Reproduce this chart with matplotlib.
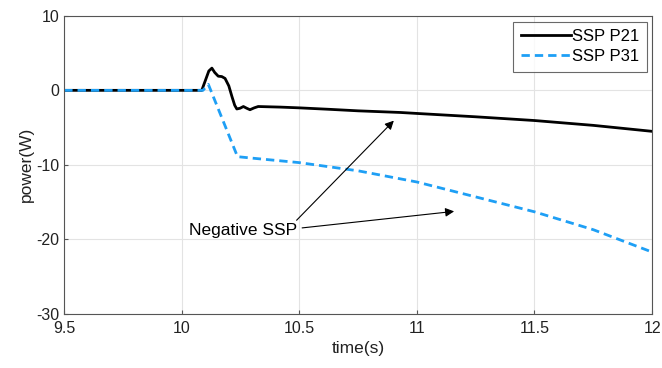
import numpy as np
import matplotlib.pyplot as plt

plt.rcParams['font.family'] = ['Liberation Sans', 'DejaVu Sans']
plt.rcParams['axes.unicode_minus'] = False

# SSP P21 (black, solid)
t21 = [9.5, 10.0, 10.085, 10.10, 10.115, 10.128, 10.14, 10.155, 10.17, 10.184, 10.20,
       10.213, 10.225, 10.234, 10.248, 10.262, 10.276, 10.29, 10.308, 10.325, 10.36,
       10.42, 10.5, 10.63, 10.75, 10.93, 11.0, 11.25, 11.5, 11.75, 12.0]
p21 = [0, 0, 0, 1.3, 2.6, 2.98, 2.4, 1.9, 1.85, 1.6, 0.6,
       -0.8, -2.0, -2.5, -2.4, -2.17, -2.4, -2.6, -2.35, -2.17, -2.2,
       -2.25, -2.35, -2.55, -2.75, -2.97, -3.1, -3.55, -4.05, -4.7, -5.5]

# SSP P31 (blue, dashed)
t31 = [9.5, 10.0, 10.09, 10.113, 10.237, 10.3, 10.5, 10.75, 11.0, 11.25, 11.5, 11.75, 12.0]
p31 = [0, 0, 0, 0.8, -8.9, -9.1, -9.7, -10.8, -12.3, -14.3, -16.3, -18.7, -21.7]

fig = plt.figure(figsize=(6.62, 3.68), dpi=100)
ax = fig.add_axes([0.097, 0.147, 0.888, 0.81])

ax.plot(t21, p21, color='black', lw=2, label='SSP P21')
ax.plot(t31, p31, color='#1E9FF5', lw=2, ls=(0, (3, 1.8)), label='SSP P31')

ax.set_xlim(9.5, 12)
ax.set_ylim(-30, 10)
ax.set_xticks([9.5, 10, 10.5, 11, 11.5, 12])
ax.set_xticklabels(['9.5', '10', '10.5', '11', '11.5', '12'])
ax.set_yticks([-30, -20, -10, 0, 10])
ax.grid(True, color='#E3E3E3', lw=0.8)
ax.set_axisbelow(True)
for s in ax.spines.values():
    s.set_color('#555555')
ax.tick_params(direction='in', length=3, colors='#555555', labelsize=11.5, labelcolor='#222222')
ax.tick_params(axis='x', pad=5)
ax.set_xlabel('time(s)', fontsize=12.5, color='#222222', labelpad=4)
ax.set_ylabel('power(W)', fontsize=12.5, color='#222222', labelpad=2)

ax.text(10.03, -18.8, 'Negative SSP', fontsize=12.5, va='center', ha='left')
ax.annotate('', xy=(10.91, -3.8), xytext=(10.48, -17.7),
            arrowprops=dict(arrowstyle='-|>', color='black', lw=0.8, mutation_scale=13))
ax.annotate('', xy=(11.17, -16.2), xytext=(10.5, -18.5),
            arrowprops=dict(arrowstyle='-|>', color='black', lw=0.8, mutation_scale=13))

leg = ax.legend(loc='upper right', fontsize=12, frameon=True, fancybox=False,
                edgecolor='#444444', handlelength=3.0, borderpad=0.45,
                labelspacing=0.3, handletextpad=0.1, borderaxespad=0,
                bbox_to_anchor=(0.9915, 0.98))
leg.get_frame().set_linewidth(0.8)

fig.savefig('out.png', dpi=100)
